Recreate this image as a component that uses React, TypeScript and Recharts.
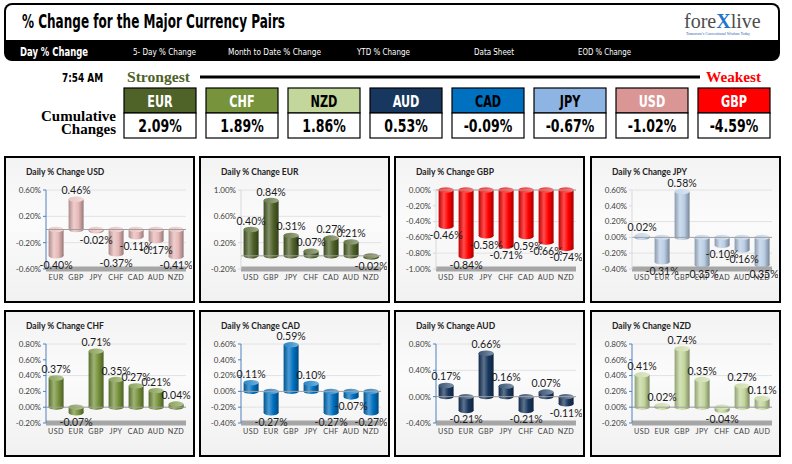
import { Bar, BarChart, CartesianGrid, LabelList, ReferenceLine, XAxis, YAxis } from 'recharts';

// cumulative strip
const CUMULATIVE_CCY = ['EUR', 'CHF', 'NZD', 'AUD', 'CAD', 'JPY', 'USD', 'GBP'];
const CUMULATIVE_CHANGE = [2.09, 1.89, 1.86, 0.53, -0.09, -0.67, -1.02, -4.59];

const NAV_LABELS = ['5- Day % Change', 'Month to Date % Change', 'YTD % Change', 'Data Sheet', 'EOD % Change'];

// daily panels
const USD_PAIRS = ['EUR', 'GBP', 'JPY', 'CHF', 'CAD', 'AUD', 'NZD'];
const USD_CHANGE = [-0.4, 0.46, -0.02, -0.37, -0.11, -0.17, -0.41];
const USD_TICKS = [-0.6, -0.4, -0.2, 0, 0.2, 0.4, 0.6];

const EUR_PAIRS = ['USD', 'GBP', 'JPY', 'CHF', 'CAD', 'AUD', 'NZD'];
const EUR_CHANGE = [0.4, 0.84, 0.31, 0.07, 0.27, 0.21, -0.02];
const EUR_TICKS = [-0.2, 0, 0.2, 0.4, 0.6, 0.8, 1.0];

const GBP_PAIRS = ['USD', 'EUR', 'JPY', 'CHF', 'CAD', 'AUD', 'NZD'];
const GBP_CHANGE = [-0.46, -0.84, -0.58, -0.71, -0.59, -0.66, -0.74];
const GBP_TICKS = [-1.0, -0.8, -0.6, -0.4, -0.2, 0];

const JPY_PAIRS = ['USD', 'EUR', 'GBP', 'CHF', 'CAD', 'AUD', 'NZD'];
const JPY_CHANGE = [0.02, -0.31, 0.58, -0.35, -0.1, -0.16, -0.35];
const JPY_TICKS = [-0.4, -0.2, 0, 0.2, 0.4, 0.6];

const CHF_PAIRS = ['USD', 'EUR', 'GBP', 'JPY', 'CAD', 'AUD', 'NZD'];
const CHF_CHANGE = [0.37, -0.07, 0.71, 0.35, 0.27, 0.21, 0.04];
const CHF_TICKS = [-0.2, 0, 0.2, 0.4, 0.6, 0.8];

const CAD_PAIRS = ['USD', 'EUR', 'GBP', 'JPY', 'CHF', 'AUD', 'NZD'];
const CAD_CHANGE = [0.11, -0.27, 0.59, 0.1, -0.27, -0.07, -0.27];
const CAD_TICKS = [-0.4, -0.2, 0, 0.2, 0.4, 0.6];

const AUD_PAIRS = ['USD', 'EUR', 'GBP', 'JPY', 'CHF', 'CAD', 'NZD'];
const AUD_CHANGE = [0.17, -0.21, 0.66, 0.16, -0.21, 0.07, -0.11];
const AUD_TICKS = [-0.4, -0.2, 0, 0.2, 0.4, 0.6, 0.8];

const NZD_PAIRS = ['USD', 'EUR', 'GBP', 'JPY', 'CHF', 'CAD', 'AUD'];
const NZD_CHANGE = [0.41, 0.02, 0.74, 0.35, -0.04, 0.27, 0.11];
const NZD_TICKS = [-0.2, 0, 0.2, 0.4, 0.6, 0.8];

const BOX_FILL: Record<string, string> = {
  EUR: '#4f6228', CHF: '#77933c', NZD: '#c3d69b', AUD: '#17375e',
  CAD: '#0070c0', JPY: '#8db4e2', USD: '#da9694', GBP: '#ff0000',
};
const BOX_TEXT: Record<string, string> = {
  EUR: '#fff', CHF: '#fff', NZD: '#000', AUD: '#fff', CAD: '#000', JPY: '#000', USD: '#fff', GBP: '#fff',
};

const COND = "'Liberation Sans Narrow', 'DejaVu Sans Condensed', 'Roboto', sans-serif";
const SERIF = "'Liberation Serif', 'DejaVu Serif', serif";
const CAL = "Lato, 'Open Sans', sans-serif";
const BLUE_AXIS = '#4f81bd';

function mix(hex: string, target: number, t: number) {
  const n = parseInt(hex.slice(1), 16);
  const ch = [(n >> 16) & 255, (n >> 8) & 255, n & 255].map((c) => Math.round(c + (target - c) * t));
  return '#' + ch.map((c) => c.toString(16).padStart(2, '0')).join('');
}

function Cylinder(props: any) {
  const { x, y, width, height, gid } = props;
  if (width == null || height == null) return null;
  const top = Math.min(y, y + height);
  const h = Math.abs(height);
  const rx = width / 2;
  const ry = Math.min(3, width * 0.18);
  return (
    <g>
      <rect x={x} y={top} width={width} height={h} fill={`url(#${gid})`} />
      <ellipse cx={x + rx} cy={top + h} rx={rx} ry={ry} fill={`url(#${gid})`} />
      <ellipse cx={x + rx} cy={top} rx={rx} ry={ry} fill={`url(#${gid}t)`} />
    </g>
  );
}

function ValueLabel(props: any) {
  const { x, y, width, height, value } = props;
  if (value == null) return null;
  const top = Math.min(y, y + height);
  const bottom = Math.max(y, y + height);
  const ty = value >= 0 ? top - 5 : bottom + 13;
  return (
    <text x={x + width / 2} y={ty} textAnchor="middle" fontSize={10.5} fill="#1a1a1a" fontFamily={CAL}>
      {`${Number(value).toFixed(2)}%`}
    </text>
  );
}

function Panel({
  ccy, pairs, values, ticks, color, axisColor, left, top,
}: {
  ccy: string; pairs: string[]; values: number[]; ticks: number[];
  color: string; axisColor: string; left: number; top: number;
}) {
  const data = pairs.map((pair, i) => ({ pair, value: values[i] }));
  const gid = `cyl${ccy}`;
  return (
    <div
      style={{
        position: 'absolute', left, top, width: 187, height: 143, border: '2px solid #000',
        background: 'linear-gradient(180deg, #f3f3f3 0%, #fbfbfb 45%, #f1f1f1 100%)',
      }}
    >
      <div style={{ position: 'absolute', left: 20, top: 9, fontFamily: CAL, fontWeight: 700, fontSize: 8.5, color: '#222' }}>
        Daily % Change {ccy}
      </div>
      <div style={{ position: 'absolute', left: 0, top: 17 }}>
        <BarChart
          width={186}
          height={114}
          data={data}
          margin={{ top: 15, right: 6, bottom: 0, left: 0 }}
          barCategoryGap="13%"
        >
          <defs>
            <linearGradient id={gid} x1="0" y1="0" x2="1" y2="0">
              <stop offset="0%" stopColor={mix(color, 0, 0.25)} />
              <stop offset="35%" stopColor={mix(color, 255, 0.3)} />
              <stop offset="65%" stopColor={color} />
              <stop offset="100%" stopColor={mix(color, 0, 0.35)} />
            </linearGradient>
            <linearGradient id={`${gid}t`} x1="0" y1="0" x2="1" y2="0">
              <stop offset="0%" stopColor={mix(color, 255, 0.15)} />
              <stop offset="100%" stopColor={mix(color, 255, 0.45)} />
            </linearGradient>
          </defs>
          <CartesianGrid vertical={false} stroke="#e2e2e2" />
          <XAxis
            dataKey="pair"
            height={20}
            tickLine={false}
            axisLine={{ stroke: '#a6a6a6', strokeWidth: 5 }}
            tick={{ fontSize: 7.2, fill: '#404040', fontFamily: CAL, letterSpacing: 0.4 }}
            tickSize={4}
            interval={0}
          />
          <YAxis
            width={40}
            domain={[ticks[0], ticks[ticks.length - 1]]}
            ticks={ticks}
            tickFormatter={(v: number) => `${v.toFixed(2)}%`}
            tick={{ fontSize: 8, fill: '#404040', fontFamily: CAL }}
            tickSize={3}
            tickLine={{ stroke: axisColor }}
            axisLine={{ stroke: axisColor }}
          />
          <ReferenceLine y={0} stroke="#a0a0a0" />
          <Bar dataKey="value" isAnimationActive={false} shape={(p: any) => <Cylinder {...p} gid={gid} />}>
            <LabelList dataKey="value" content={(p: any) => <ValueLabel {...p} />} />
          </Bar>
        </BarChart>
      </div>
    </div>
  );
}

function Header() {
  const navX = [133, 228, 357, 474, 578];
  const navW = [63, 93, 53, 40, 53];
  return (
    <svg width={792} height={150} style={{ position: 'absolute', left: 0, top: 0 }}>
      <rect x={4} y={3} width={776} height={58} rx={8} fill="#000" />
      <rect x={6} y={5} width={772} height={35} rx={6} fill="#fff" />
      <rect x={6} y={22} width={772} height={18} fill="#fff" />
      <text x={22} y={28} fontFamily={COND} fontWeight={700} fontSize={19} textLength={263} lengthAdjust="spacingAndGlyphs">
        % Change for the Major Currency Pairs
      </text>
      <text x={684} y={28} fontFamily={SERIF} fontSize={20} fill="#4d4d4d">
        fore<tspan fill="#1f77c8" fontWeight={700}>X</tspan>live
      </text>
      <text x={686} y={35} fontFamily={SERIF} fontSize={4} fill="#1f5fb0" textLength={64} lengthAdjust="spacingAndGlyphs">
        Tomorrow's Conventional Wisdom Today
      </text>
      <text x={20} y={56} fontFamily={COND} fontWeight={700} fontSize={13} fill="#fff" textLength={68} lengthAdjust="spacingAndGlyphs">
        Day % Change
      </text>
      {NAV_LABELS.map((t, i) => (
        <text key={t} x={navX[i]} y={55} fontFamily={COND} fontSize={9.5} fill="#fff" textLength={navW[i]} lengthAdjust="spacingAndGlyphs">
          {t}
        </text>
      ))}
      <text x={62} y={82} fontFamily={COND} fontWeight={700} fontSize={13} textLength={41} lengthAdjust="spacingAndGlyphs">
        7:54 AM
      </text>
      <text x={127} y={82} fontFamily={SERIF} fontWeight={700} fontSize={15} fill="#4f6228" textLength={63} lengthAdjust="spacingAndGlyphs">
        Strongest
      </text>
      <line x1={200} y1={77} x2={700} y2={77} stroke="#000" strokeWidth={3} />
      <text x={706} y={82} fontFamily={SERIF} fontWeight={700} fontSize={15} fill="#ff0000" textLength={55} lengthAdjust="spacingAndGlyphs">
        Weakest
      </text>
      <text x={116} y={121} textAnchor="end" fontFamily={SERIF} fontWeight={700} fontSize={15}>Cumulative</text>
      <text x={116} y={134} textAnchor="end" fontFamily={SERIF} fontWeight={700} fontSize={15}>Changes</text>
      {CUMULATIVE_CCY.map((c, i) => {
        const bx = 124 + i * 82;
        return (
          <g key={c}>
            <rect x={bx} y={88} width={72} height={25} fill={BOX_FILL[c]} stroke="#000" strokeWidth={1.2} />
            <rect x={bx} y={113} width={72} height={25} fill="#fff" stroke="#000" strokeWidth={1.2} />
            <text
              transform={`translate(${bx + 36},107) scale(0.78,1)`}
              textAnchor="middle"
              fontFamily={COND}
              fontWeight={700}
              fontSize={16}
              fill={BOX_TEXT[c]}
            >
              {c}
            </text>
            <text
              transform={`translate(${bx + 36},132) scale(0.82,1)`}
              textAnchor="middle"
              fontFamily={COND}
              fontWeight={700}
              fontSize={17}
              fill="#000"
            >
              {`${CUMULATIVE_CHANGE[i].toFixed(2)}%`}
            </text>
          </g>
        );
      })}
    </svg>
  );
}

export default function App() {
  const xs = [4, 199, 394, 590];
  return (
    <div style={{ position: 'absolute', left: 0, top: 0, width: 792, height: 464, background: '#fff', overflow: 'hidden' }}>
      <Header />
      <Panel ccy="USD" pairs={USD_PAIRS} values={USD_CHANGE} ticks={USD_TICKS} color="#e6b9b8" axisColor={BLUE_AXIS} left={xs[0]} top={156} />
      <Panel ccy="EUR" pairs={EUR_PAIRS} values={EUR_CHANGE} ticks={EUR_TICKS} color="#4f6228" axisColor="#d9d9d9" left={xs[1]} top={156} />
      <Panel ccy="GBP" pairs={GBP_PAIRS} values={GBP_CHANGE} ticks={GBP_TICKS} color="#ff0000" axisColor="#d9d9d9" left={xs[2]} top={156} />
      <Panel ccy="JPY" pairs={JPY_PAIRS} values={JPY_CHANGE} ticks={JPY_TICKS} color="#b9cde5" axisColor="#d9d9d9" left={xs[3]} top={156} />
      <Panel ccy="CHF" pairs={CHF_PAIRS} values={CHF_CHANGE} ticks={CHF_TICKS} color="#77933c" axisColor={BLUE_AXIS} left={xs[0]} top={310} />
      <Panel ccy="CAD" pairs={CAD_PAIRS} values={CAD_CHANGE} ticks={CAD_TICKS} color="#0070c0" axisColor={BLUE_AXIS} left={xs[1]} top={310} />
      <Panel ccy="AUD" pairs={AUD_PAIRS} values={AUD_CHANGE} ticks={AUD_TICKS} color="#17375e" axisColor={BLUE_AXIS} left={xs[2]} top={310} />
      <Panel ccy="NZD" pairs={NZD_PAIRS} values={NZD_CHANGE} ticks={NZD_TICKS} color="#c3d69b" axisColor={BLUE_AXIS} left={xs[3]} top={310} />
    </div>
  );
}
